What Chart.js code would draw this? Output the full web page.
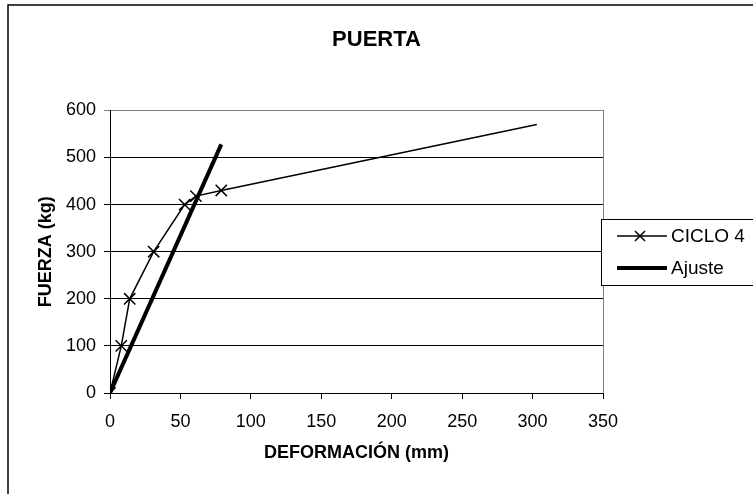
<!DOCTYPE html>
<html>
<head>
<meta charset="utf-8">
<script src="https://cdn.jsdelivr.net/npm/chart.js@4/dist/chart.umd.min.js"></script>
<style>
  body { margin: 0; background: #fff; }
  #wrap { width: 753px; height: 494px; }
</style>
</head>
<body>
<div id="wrap"><canvas id="puerta" width="753" height="494"></canvas></div>
<script>
// data
var cicloX = [0, 8, 14, 31, 53, 61, 79, 303];
var cicloY = [0, 100, 200, 300, 400, 418, 430, 570];
var ajusteX = [0, 79];
var ajusteY = [0, 528];
var xTicks = [0, 50, 100, 150, 200, 250, 300, 350];
var yTicks = [0, 100, 200, 300, 400, 500, 600];

var FONT = "'Liberation Sans', Arial, sans-serif";

function toPoints(xs, ys) {
  var pts = [];
  for (var i = 0; i < xs.length; i++) pts.push({ x: xs[i], y: ys[i] });
  return pts;
}

// white background, outer frame and grey plot border
var frame = {
  id: 'frame',
  beforeDraw: function (chart) {
    var ctx = chart.ctx, a = chart.chartArea;
    ctx.save();
    ctx.fillStyle = '#fff';
    ctx.fillRect(0, 0, chart.width, chart.height);
    ctx.strokeStyle = '#000';
    ctx.lineWidth = 1.5;
    ctx.strokeRect(8, 5, 900, 700);
    ctx.strokeStyle = '#808080';
    ctx.lineWidth = 1;
    ctx.strokeRect(Math.round(a.left) + 0.5, Math.round(a.top) + 0.5, Math.round(a.right - a.left), Math.round(a.bottom - a.top));
    ctx.restore();
  }
};

// excel style legend box on the right
var boxLegend = {
  id: 'boxLegend',
  afterDraw: function (chart) {
    var ctx = chart.ctx;
    var x0 = 601, y0 = 219, rowH = 32;
    ctx.save();
    ctx.fillStyle = '#fff';
    ctx.fillRect(x0, y0, 200, 66);
    ctx.strokeStyle = '#000';
    ctx.lineWidth = 1;
    ctx.strokeRect(x0 + 0.5, y0 + 0.5, 200, 66);
    chart.data.datasets.forEach(function (ds, i) {
      var y = y0 + 17 + i * rowH;
      ctx.strokeStyle = '#000';
      ctx.lineWidth = ds.borderWidth;
      ctx.beginPath();
      ctx.moveTo(617, y);
      ctx.lineTo(667, y);
      ctx.stroke();
      if (ds.pointStyle === 'crossRot') {
        ctx.lineWidth = 1.5;
        ctx.beginPath();
        ctx.moveTo(635, y - 5); ctx.lineTo(645, y + 5);
        ctx.moveTo(645, y - 5); ctx.lineTo(635, y + 5);
        ctx.stroke();
      }
      ctx.fillStyle = '#000';
      ctx.font = '19px ' + FONT;
      ctx.textBaseline = 'middle';
      ctx.fillText(ds.label, 671, y + 1);
    });
    ctx.restore();
  }
};

new Chart(document.getElementById('puerta'), {
  type: 'scatter',
  data: {
    datasets: [{
      label: 'CICLO 4',
      data: toPoints(cicloX, cicloY),
      showLine: true,
      borderColor: '#000',
      backgroundColor: '#000',
      borderWidth: 1.5,
      pointStyle: 'crossRot',
      pointRadius: function (c) { return c.dataIndex === cicloX.length - 1 ? 0 : 8; },
      pointBorderWidth: 1.5,
      order: 1
    }, {
      label: 'Ajuste',
      data: toPoints(ajusteX, ajusteY),
      showLine: true,
      borderColor: '#000',
      backgroundColor: '#000',
      borderWidth: 4,
      pointRadius: 0,
      order: 0
    }]
  },
  options: {
    responsive: false,
    animation: false,
    layout: { padding: 0 },
    plugins: {
      legend: { display: false },
      tooltip: { enabled: false },
      title: {
        display: true,
        text: 'PUERTA',
        color: '#000',
        font: { family: FONT, size: 22, weight: 'bold' },
        padding: { top: 27, bottom: 57 }
      }
    },
    scales: {
      x: {
        type: 'linear',
        min: 0, max: 350,
        afterBuildTicks: function (s) { s.ticks = xTicks.map(function (v) { return { value: v }; }); },
        afterFit: function (s) { s.height = 101; },
        grid: { drawOnChartArea: false, drawTicks: true, tickLength: 6, color: '#000' },
        border: { color: '#000', width: 1 },
        ticks: { color: '#000', padding: 12, font: { family: FONT, size: 18 } },
        title: { display: true, text: 'DEFORMACIÓN (mm)', color: '#000',
                 font: { family: FONT, size: 18, weight: 'bold' }, padding: { bottom: 30 } }
      },
      y: {
        min: 0, max: 600,
        afterBuildTicks: function (s) { s.ticks = yTicks.map(function (v) { return { value: v }; }); },
        afterFit: function (s) { s.width = 110; },
        grid: {
          drawTicks: true, tickLength: 6,
          color: function (c) { return c.tick && c.tick.value === 600 ? '#808080' : '#000'; }
        },
        border: { color: '#000', width: 1 },
        ticks: { color: '#000', padding: 8, font: { family: FONT, size: 18 } },
        title: { display: true, text: 'FUERZA (kg)', color: '#000',
                 font: { family: FONT, size: 18, weight: 'bold' }, padding: { top: 35 } }
      },
      // empty axis that only reserves the legend's room on the right
      side: {
        type: 'linear',
        position: 'right',
        afterFit: function (s) { s.width = 150; },
        grid: { display: false },
        border: { display: false },
        ticks: { display: false }
      }
    }
  },
  plugins: [frame, boxLegend]
});
</script>
</body>
</html>
